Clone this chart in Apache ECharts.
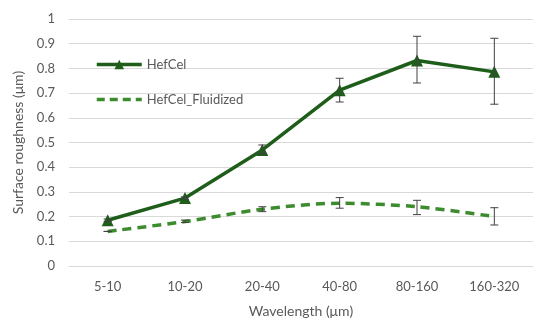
<!DOCTYPE html>
<html><head><meta charset="utf-8">
<script src="https://cdn.jsdelivr.net/npm/echarts@6/dist/echarts.min.js"></script>
<style>html,body{margin:0;padding:0;background:#fff}#c{width:550px;height:325px}</style>
</head><body><div id="c"></div>
<script>
const categories = ['5-10','10-20','20-40','40-80','80-160','160-320'];
const hefcel = [0.185, 0.275, 0.47, 0.712, 0.832, 0.786];
const hefcelLow = [0.18, 0.27, 0.455, 0.664, 0.741, 0.655];
const hefcelHigh = [0.19, 0.28, 0.49, 0.76, 0.93, 0.922];
const fluid = [0.14, 0.18, 0.23, 0.254, 0.24, 0.2];
const fluidLow = [0.14, 0.176, 0.22, 0.234, 0.208, 0.166];
const fluidHigh = [0.14, 0.186, 0.24, 0.277, 0.266, 0.236];
const yTicks = [0,0.1,0.2,0.3,0.4,0.5,0.6,0.7,0.8,0.9,1];

const FONT = 'Lato';
const TXT = '#595959';
const C1 = '#1e5e1a';
const C2 = '#3c8c2e';

function errData(low, high){ return categories.map((c,i)=>[i, low[i], high[i]]); }
function errSeries(low, high){
  return {
    type:'custom', silent:true, z:5,
    data: errData(low, high),
    renderItem: function(params, api){
      const x = api.coord([api.value(0), api.value(1)])[0];
      const yl = api.coord([api.value(0), api.value(1)])[1];
      const yh = api.coord([api.value(0), api.value(2)])[1];
      const w = 4;
      const st = {stroke:'#404040', lineWidth:1};
      return {type:'group', children:[
        {type:'line', shape:{x1:x,y1:yl,x2:x,y2:yh}, style:st},
        {type:'line', shape:{x1:x-w,y1:yl,x2:x+w,y2:yl}, style:st},
        {type:'line', shape:{x1:x-w,y1:yh,x2:x+w,y2:yh}, style:st}
      ]};
    }
  };
}

const chart = echarts.init(document.getElementById('c'), null, {renderer:'canvas'});
chart.setOption({
  animation:false,
  textStyle:{fontFamily:FONT},
  grid:{left:69, right:17, top:19, bottom:59},
  legend:{
    orient:'vertical', left:90, top:53, itemGap:22, itemWidth:45, itemHeight:12,
    textStyle:{color:TXT, fontSize:13, fontFamily:FONT},
    data:[
      {name:'HefCel', lineStyle:{width:3.5, color:C1}},
      {name:'HefCel_Fluidized', lineStyle:{width:3.5, color:C2, type:[8,5]},
       itemStyle:{opacity:0, borderWidth:0}}
    ]
  },
  xAxis:{
    type:'category', data:categories, boundaryGap:true,
    axisLine:{lineStyle:{color:'#d9d9d9'}}, axisTick:{show:false},
    axisLabel:{color:TXT, fontSize:13, margin:14, fontFamily:FONT},
    name:'Wavelength (μm)', nameLocation:'middle', nameGap:38,
    nameTextStyle:{color:TXT, fontSize:14, fontFamily:FONT}
  },
  yAxis:{
    type:'value', min:0, max:1, interval:0.1,
    axisLine:{show:false}, axisTick:{show:false},
    splitLine:{lineStyle:{color:'#d9d9d9'}},
    axisLabel:{color:TXT, fontSize:13, margin:14, fontFamily:FONT,
      formatter:v=>String(Math.round(v*10)/10)},
    name:'Surface roughness (μm)', nameLocation:'middle', nameGap:42,
    nameTextStyle:{color:TXT, fontSize:14, fontFamily:FONT}
  },
  series:[
    {name:'HefCel', type:'line', data:hefcel, z:3,
     symbol:'triangle', symbolSize:12,
     lineStyle:{color:C1, width:3.5}, itemStyle:{color:C1}},
    {name:'HefCel_Fluidized', type:'line', data:fluid, z:3, smooth:0.3,
     symbol:'none',
     lineStyle:{color:C2, width:3.5, type:[9,6]}, itemStyle:{color:C2}},
    errSeries(hefcelLow, hefcelHigh),
    errSeries(fluidLow, fluidHigh)
  ]
});
</script></body></html>
